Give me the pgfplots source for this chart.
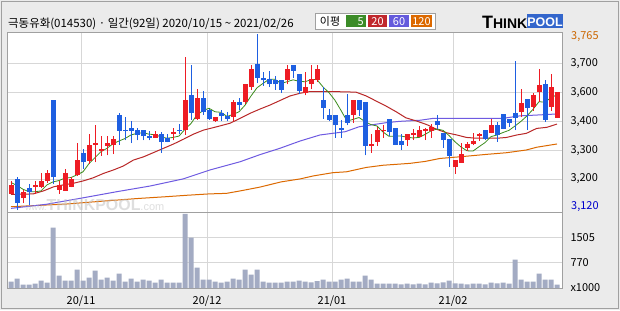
\documentclass[border=0pt]{standalone}
\usepackage{fontspec}
\setmainfont{Noto Sans CJK KR}
\newfontfamily\logofont{Liberation Sans}
\usepackage{pgfplots}
\pgfplotsset{compat=1.18}
\usepackage{pgfplotstable}

\definecolor{upred}{RGB}{238,28,36}
\definecolor{dnblue}{RGB}{30,95,225}
\definecolor{ma5}{RGB}{60,140,30}
\definecolor{ma20}{RGB}{185,40,40}
\definecolor{ma60}{RGB}{110,90,225}
\definecolor{ma120}{RGB}{220,105,0}
\definecolor{volc}{RGB}{163,171,195}
\definecolor{bg}{RGB}{235,235,235}
\definecolor{gridc}{RGB}{215,215,215}
\definecolor{framec}{RGB}{160,160,160}
\definecolor{chipgreen}{RGB}{60,140,40}
\definecolor{chipred}{RGB}{192,40,45}
\definecolor{chipblue}{RGB}{100,90,220}
\definecolor{chiporange}{RGB}{220,105,0}
\definecolor{lblorange}{RGB}{204,102,0}
\definecolor{lblblue}{RGB}{0,0,204}
\definecolor{logoblue}{RGB}{51,102,204}

% rising candles: index, open, high, low, close
\pgfplotstableread{
i o h l c
0 3180 3225 3180 3210
2 3165 3195 3145 3185
4 3205 3225 3180 3210
5 3205 3255 3200 3225
6 3225 3265 3220 3255
8 3195 3225 3180 3210
9 3190 3270 3190 3255
10 3205 3240 3203 3235
11 3248 3365 3245 3305
13 3300 3400 3290 3360
14 3360 3430 3295 3365
15 3335 3390 3318 3345
16 3355 3390 3320 3365
17 3360 3390 3325 3380
24 3385 3410 3385 3400
27 3399 3420 3375 3405
29 3415 3680 3395 3525
31 3455 3565 3450 3530
34 3445 3462 3443 3460
37 3460 3525 3445 3515
39 3515 3580 3510 3580
40 3570 3650 3560 3635
46 3595 3650 3580 3635
49 3550 3625 3540 3570
50 3580 3650 3562 3600
51 3595 3650 3590 3635
57 3470 3525 3440 3525
60 3355 3400 3330 3362
61 3370 3425 3355 3415
62 3410 3430 3385 3415
66 3376 3398 3356 3398
67 3395 3417 3376 3401
68 3389 3428 3386 3413
69 3411 3419 3376 3416
70 3411 3435 3385 3423
74 3279 3303 3252 3303
75 3293 3364 3293 3325
76 3348 3370 3337 3362
77 3361 3401 3358 3373
78 3391 3403 3373 3398
80 3403 3452 3401 3431
85 3480 3563 3460 3513
87 3499 3548 3483 3541
88 3554 3637 3517 3578
90 3499 3618 3484 3572
91 3458 3554 3458 3554
}\uptable

% falling candles
\pgfplotstableread{
i o h l c
1 3235 3240 3120 3145
3 3200 3215 3140 3185
7 3525 3525 3215 3240
12 3330 3345 3270 3295
18 3470 3475 3360 3410
19 3415 3460 3375 3410
20 3420 3445 3365 3410
21 3415 3420 3375 3395
22 3415 3415 3375 3390
23 3390 3410 3375 3385
25 3400 3405 3330 3370
26 3385 3400 3368 3370
28 3415 3435 3400 3410
30 3540 3650 3450 3475
32 3530 3555 3470 3480
33 3485 3490 3450 3455
35 3475 3485 3445 3465
36 3465 3480 3445 3455
38 3515 3530 3485 3505
41 3655 3765 3585 3605
42 3605 3625 3575 3595
43 3600 3630 3570 3580
44 3595 3610 3560 3580
45 3595 3595 3550 3560
47 3650 3650 3605 3630
48 3620 3620 3545 3555
52 3525 3570 3455 3495
53 3470 3490 3445 3450
54 3470 3470 3385 3430
55 3420 3450 3385 3415
56 3470 3545 3430 3440
58 3525 3525 3465 3485
59 3515 3515 3320 3355
63 3455 3455 3390 3405
64 3420 3420 3358 3360
65 3373 3398 3340 3358
71 3447 3468 3417 3431
72 3401 3401 3348 3376
73 3379 3379 3279 3318
79 3413 3413 3376 3379
81 3431 3441 3370 3395
82 3472 3472 3416 3417
83 3453 3453 3425 3440
84 3474 3666 3413 3458
86 3526 3526 3413 3495
89 3582 3596 3444 3450
}\dntable

% volume, thousands of shares
\pgfplotstableread{
i v
0 188
1 277
2 99
3 99
4 129
5 218
6 158
7 1792
8 366
9 218
10 218
11 545
12 218
13 307
14 515
15 248
16 307
17 218
18 426
19 188
20 277
21 188
22 248
23 218
24 158
25 248
26 158
27 158
28 158
29 2208
30 1495
31 604
32 248
33 248
34 188
35 158
36 188
37 277
38 248
39 545
40 396
41 545
42 188
43 158
44 158
45 158
46 188
47 188
48 218
49 188
50 168
51 208
52 248
53 188
54 188
55 248
56 277
57 188
58 188
59 366
60 248
61 129
62 129
63 129
64 129
65 109
66 129
67 109
68 129
69 109
70 158
71 139
72 168
73 218
74 139
75 129
76 109
77 129
78 129
79 109
80 158
81 139
82 158
83 129
84 842
85 248
86 188
87 188
88 426
89 248
90 248
91 99
}\voltable

\begin{document}
\begin{tikzpicture}[x=1bp,y=1bp]
\useasboundingbox (0,0) rectangle (620,310);
\fill[bg] (0,0) rectangle (620,310);
\draw[framec] (1.5,1.5) rectangle (618.5,308.5);

\begin{axis}[
  at={(7bp,98bp)}, anchor=south west,
  width=555bp, height=180bp, scale only axis,
  xmin=-0.6667, xmax=91.8333, ymin=3112.7, ymax=3772.4,
  axis background/.style={fill=white},
  axis line style={draw=framec},
  xtick={11.67,32.67,53.5,73.67}, xticklabels={},
  ytick={3233.5,3339.5,3445.5,3551.5,3657.5},
  yticklabels={{3,200},{3,300},{3,400},{3,600},{3,700}},
  yticklabel pos=right,
  yticklabel style={anchor=west, xshift=5bp, font=\fontsize{11}{13}\selectfont},
  major tick length=0pt, tick style={draw=none},
  grid=major, major grid style={draw=gridc, line width=1bp},
]
% moving averages
\addplot[ma120, line width=1bp] coordinates {
(0,3132) (3.7,3136) (9.3,3142) (15,3152) (21,3162) (26,3169) (29.3,3174) (33,3179)
(35.9,3181) (38.2,3190) (41.5,3204) (45,3223) (48.2,3234) (50.4,3245) (53.7,3257)
(55.9,3260) (59.2,3276) (62,3284) (66.5,3291) (69,3298) (71.5,3309) (74.8,3315)
(79.3,3324) (82.6,3330) (85.9,3340) (87.6,3350) (91,3362)};
\addplot[ma60, line width=1bp] coordinates {
(0,3126) (5.9,3141) (12.1,3165) (17.6,3187) (23.2,3208) (28.7,3234) (33.2,3267)
(38.2,3297) (41.5,3323) (44.8,3346) (48.2,3373) (51.5,3395) (55.7,3407) (58,3425)
(60.4,3433) (62.5,3440) (64.8,3445) (68.2,3449) (70.4,3456) (82,3456) (84.8,3465)
(87.6,3468) (91,3472)};
\addplot[ma20, line width=1bp] coordinates {
(0,3177) (3.7,3179) (5.4,3190) (7.1,3205) (8.7,3212) (10.4,3218) (12.1,3227)
(13.7,3238) (15.4,3254) (17.1,3267) (18.7,3281) (20.4,3303) (22.1,3315) (23.7,3330)
(25.4,3346) (27.1,3362) (28.7,3379) (30.4,3398) (32.1,3413) (33.2,3419) (34.8,3428)
(36.5,3438) (38.2,3456) (39.8,3474) (41.5,3490) (43.2,3505) (44.8,3521) (46.5,3538)
(48.2,3548) (49.8,3554) (53.7,3554) (57.5,3552) (59.2,3538) (60.8,3520) (62.5,3501)
(64.2,3480) (65.8,3458) (67.6,3446) (69.3,3433) (70.9,3416) (72.6,3403) (74.3,3395)
(75.9,3386) (77.7,3383) (81,3383) (82.6,3386) (84.3,3395) (85.9,3401) (87.6,3419)
(89.3,3423) (91,3435)};
\addplot[ma5, line width=0.8bp] coordinates {
(0,3221) (1,3210) (2,3196) (3,3187) (4,3187) (5,3190) (6,3212) (7,3223) (8,3228)
(9,3237) (10,3239) (11,3249) (12,3260) (13,3290) (14,3312) (15,3334) (16,3346)
(17,3363) (18,3373) (19,3382) (20,3395) (21,3401) (22,3403) (23,3398) (24,3396)
(25,3388) (26,3383) (27,3386) (28,3391) (29,3416) (30,3437) (31,3469) (32,3484)
(33,3493) (34,3480) (35,3478) (36,3463) (37,3470) (38,3480) (39,3504) (40,3538)
(41,3568) (42,3584) (43,3599) (44,3599) (45,3584) (46,3590) (47,3597) (48,3592)
(49,3590) (50,3598) (51,3598) (52,3571) (53,3550) (54,3522) (55,3485) (56,3446)
(57,3452) (58,3459) (59,3444) (60,3433) (61,3428) (62,3406) (63,3390) (64,3391)
(65,3391) (66,3387) (67,3384) (68,3386) (69,3397) (70,3410) (71,3417) (72,3412)
(73,3393) (74,3370) (75,3351) (76,3337) (77,3336) (78,3352) (79,3367) (80,3389)
(81,3395) (82,3404) (83,3412) (84,3428) (85,3445) (86,3465) (87,3489) (88,3517)
(89,3515) (90,3532) (91,3542)};
% wicks
\addplot[draw=none, mark=none, error bars/.cd, y dir=plus, y explicit, error mark=none,
  error bar style={draw=upred, line width=1bp}]
  table[x=i, y=l, y error plus expr=\thisrow{h}-\thisrow{l}] \uptable;
\addplot[draw=none, mark=none, error bars/.cd, y dir=plus, y explicit, error mark=none,
  error bar style={draw=dnblue, line width=1bp}]
  table[x=i, y=l, y error plus expr=\thisrow{h}-\thisrow{l}] \dntable;
% bodies
\addplot[draw=none, mark=none, error bars/.cd, y dir=plus, y explicit, error mark=none,
  error bar style={draw=upred, line width=5bp}]
  table[x=i, y=o, y error plus expr=\thisrow{c}-\thisrow{o}] \uptable;
\addplot[draw=none, mark=none, error bars/.cd, y dir=plus, y explicit, error mark=none,
  error bar style={draw=dnblue, line width=5bp}]
  table[x=i, y=c, y error plus expr=\thisrow{o}-\thisrow{c}] \dntable;
\end{axis}

\begin{axis}[
  at={(7bp,22bp)}, anchor=south west,
  width=555bp, height=76bp, scale only axis,
  xmin=-0.6667, xmax=91.8333, ymin=0, ymax=2260,
  axis background/.style={fill=white},
  axis line style={draw=framec},
  xtick={11.67,32.67,53.5,73.67}, xticklabels={20/11,20/12,21/01,21/02},
  xticklabel style={font=\fontsize{11}{13}\selectfont, yshift=-4bp},
  ytick={0,770,1505}, yticklabels={x1000,770,1505},
  yticklabel pos=right,
  yticklabel style={anchor=west, xshift=5bp, font=\fontsize{11}{13}\selectfont},
  major tick length=0pt, tick style={draw=none},
  grid=major, major grid style={draw=gridc, line width=1bp},
]
\addplot[ybar, bar width=5bp, fill=volc, draw=none] table[x=i, y=v] \voltable;
\end{axis}

% extreme labels
\node[anchor=west, inner sep=0, text=lblorange, font=\fontsize{11}{13}\selectfont] at (571,273) {3,765};
\node[anchor=west, inner sep=0, text=lblblue, font=\fontsize{11}{13}\selectfont] at (571,103) {3,120};

% watermark
\node[anchor=base west, inner sep=0, text=gray!50, opacity=0.5] at (25,100)
  {\logofont\fontsize{9}{9}\selectfont www.\fontsize{16}{16}\selectfont\bfseries THINKPOOL\fontsize{11}{11}\selectfont\mdseries .com};

% header
\node[anchor=base west, inner sep=0, font=\fontsize{11.5}{13}\selectfont] at (8,283)
  {극동유화(014530) · 일간(92일) 2020/10/15 \textasciitilde{} 2021/02/26};
\draw[framec, fill=white] (315,281) rectangle (435,297);
\node[anchor=base, inner sep=0, font=\fontsize{11}{13}\selectfont] at (330,285) {이평};
\fill[chipgreen] (346,283) rectangle (366,295);
\fill[chipred] (368,283) rectangle (387,295);
\fill[chipblue] (389,283) rectangle (409,295);
\fill[chiporange] (411,283) rectangle (432,295);
\node[anchor=base east, inner sep=0, text=white, font=\fontsize{11}{13}\selectfont] at (364,285) {5};
\node[anchor=base, inner sep=0, text=white, font=\fontsize{11}{13}\selectfont] at (377.5,285) {20};
\node[anchor=base, inner sep=0, text=white, font=\fontsize{11}{13}\selectfont] at (399,285) {60};
\node[anchor=base, inner sep=0, text=white, font=\fontsize{11}{13}\selectfont] at (421.5,285) {120};

% logo
\node[anchor=base west, inner sep=0] at (482,282)
  {\logofont\bfseries\fontsize{18}{18}\selectfont T\fontsize{14}{14}\selectfont HINK};
\fill[logoblue] (527,282) rectangle (563,296);
\node[anchor=base, inner sep=0, text=white] at (545,283.5)
  {\logofont\bfseries\fontsize{12.5}{12.5}\selectfont POOL};
\end{tikzpicture}
\end{document}
